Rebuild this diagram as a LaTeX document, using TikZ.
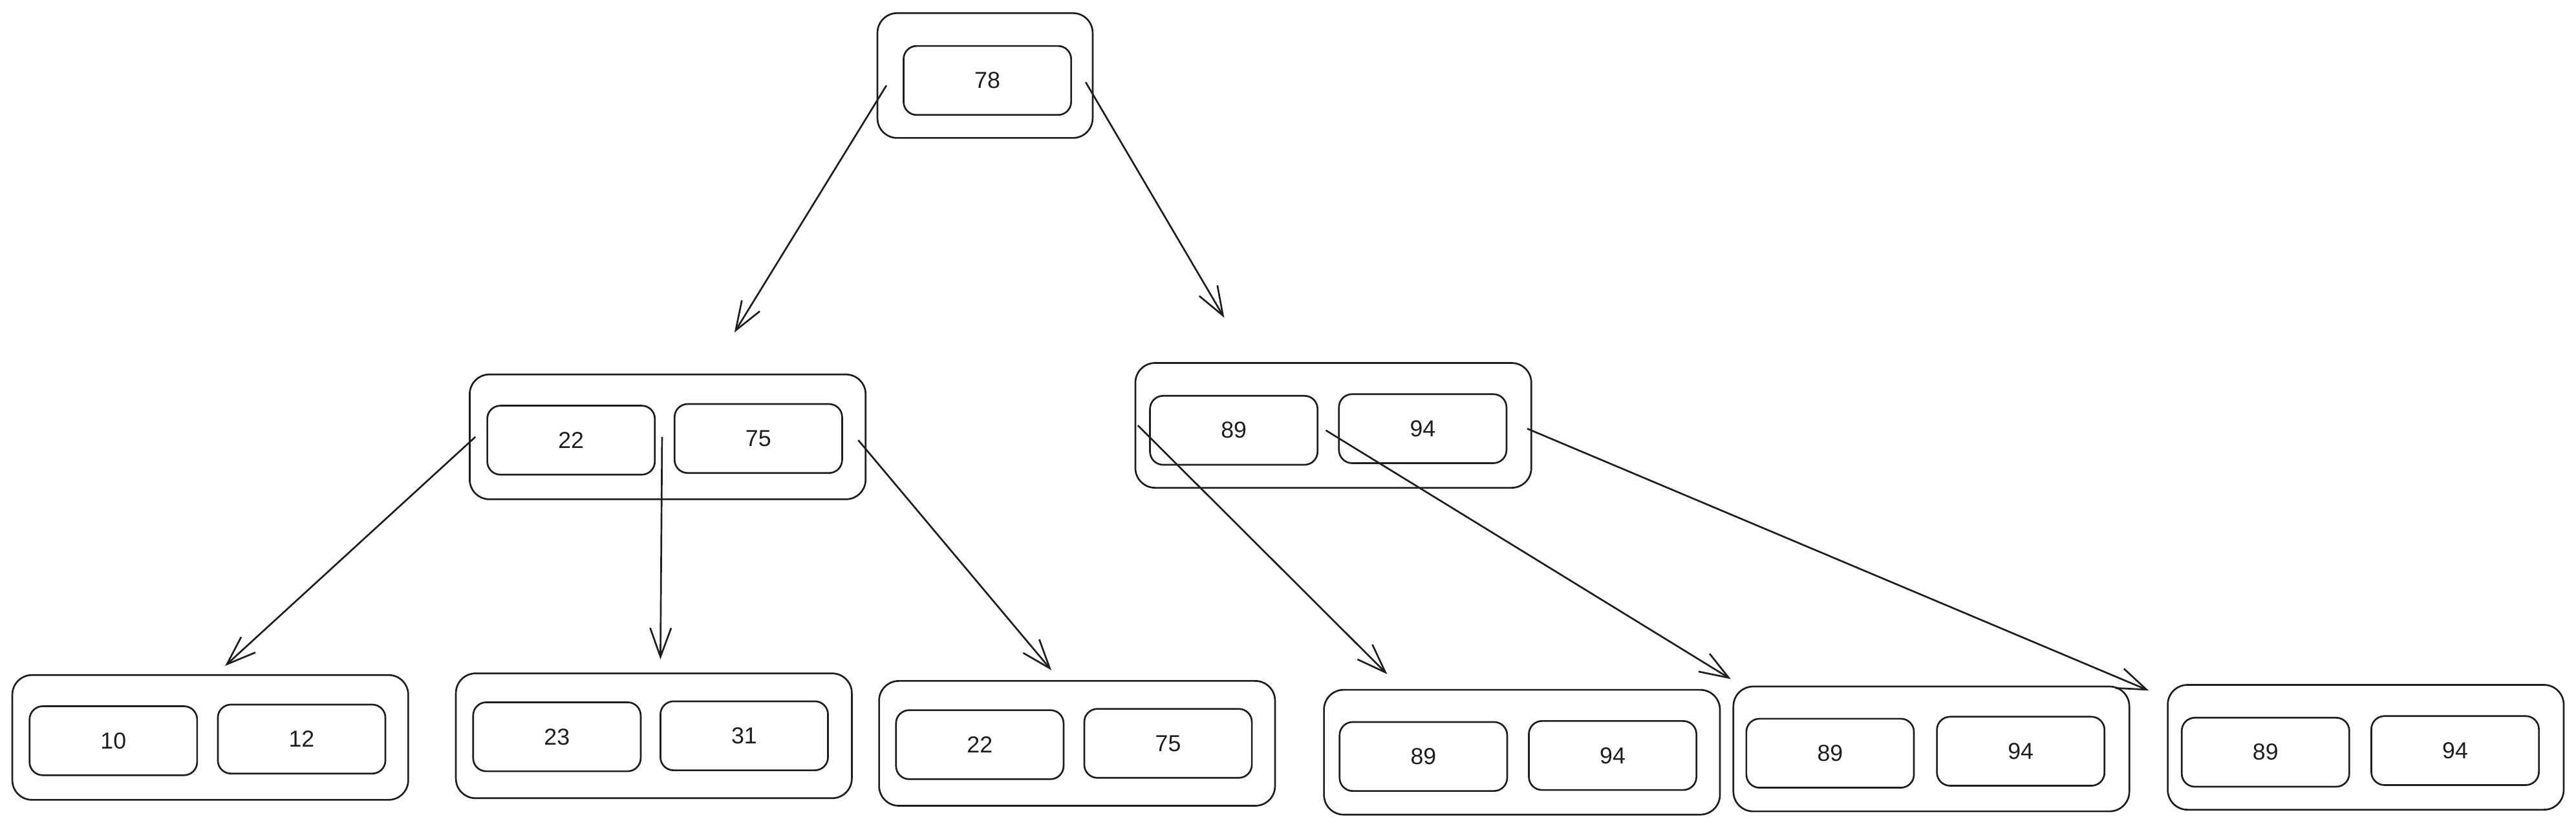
\documentclass[tikz,border=0pt]{standalone}
\usepackage{fontspec}
\setmainfont{Liberation Sans}
\usetikzlibrary{arrows.meta}
\definecolor{SketchInk}{HTML}{1E1E1E}
\tikzset{
  treearrow/.style={-{Straight Barb[length=4.4mm,width=3.2mm]},line width=0.75pt,draw=SketchInk},
  outerbox/.style={draw=SketchInk,line width=0.75pt,rounded corners=3mm,minimum width=60.25mm,minimum height=19mm,inner sep=0pt},
  rootbox/.style={outerbox,minimum width=32.75mm},
  keybox/.style={draw=SketchInk,line width=0.75pt,rounded corners=2mm,minimum width=25.5mm,minimum height=10.5mm,inner sep=0pt,text=SketchInk,font=\fontsize{10}{12}\selectfont}
}
\begin{document}
\begin{tikzpicture}[x=1mm,y=1mm]
  % Three-level tree: each node is an outer frame holding its key boxes,
  % keys are placed by hand so the frames keep their uneven margins.
  \useasboundingbox (0,0) rectangle (392,126.25);

  \node[rootbox] (root) at (149.9,114.75) {};
  \node[keybox] (k78) at (150.25,114) {78};

  \node[outerbox] (midL) at (101.6,59.75) {};
  \node[keybox] (k22) at (86.9,59.25) {22};
  \node[keybox] (k75) at (115.4,59.5) {75};

  \node[outerbox] (midR) at (202.9,61.5) {};
  \node[keybox] (k89) at (187.75,60.75) {89};
  \node[keybox] (k94) at (216.5,61) {94};

  \node[outerbox] (leafA) at (32,14) {};
  \node[keybox] (leafAa) at (17.25,13.5) {10};
  \node[keybox] (leafAb) at (45.9,13.75) {12};

  \node[outerbox] (leafB) at (99.5,14.25) {};
  \node[keybox] (leafBa) at (84.75,14.1) {23};
  \node[keybox] (leafBb) at (113.25,14.25) {31};

  \node[outerbox] (leafC) at (163.9,13.1) {};
  \node[keybox] (leafCa) at (149.1,12.9) {22};
  \node[keybox] (leafCb) at (177.75,13.1) {75};

  \node[outerbox] (leafD) at (231.6,11.75) {};
  \node[keybox] (leafDa) at (216.6,11.1) {89};
  \node[keybox] (leafDb) at (245.4,11.25) {94};

  \node[outerbox] (leafE) at (293.9,12.25) {};
  \node[keybox] (leafEa) at (278.5,11.6) {89};
  \node[keybox] (leafEb) at (307.5,11.9) {94};

  \node[outerbox] (leafF) at (360,12.5) {};
  \node[keybox] (leafFa) at (344.75,11.75) {89};
  \node[keybox] (leafFb) at (373.6,12) {94};

  \draw[treearrow] ([xshift=1.5mm,yshift=-1.5mm]root.west)
    -- ([xshift=10.15mm,yshift=6.25mm]midL.north);
  \draw[treearrow] ([xshift=-1.2mm,yshift=-1mm]root.east)
    -- ([xshift=-16.6mm,yshift=6.75mm]midR.north);

  \draw[treearrow] ([xshift=1mm]midL.west)
    -- ([xshift=2.25mm,yshift=1.25mm]leafA.north);
  \draw[treearrow] ([xshift=-0.85mm]midL.center)
    -- ([xshift=1mm,yshift=2mm]leafB.north);
  \draw[treearrow] ([xshift=-1.25mm,yshift=-0.5mm]midL.east)
    -- ([xshift=-3.9mm,yshift=1.5mm]leafC.north);

  \draw[treearrow] ([xshift=0.5mm]midR.west)
    -- ([xshift=9.75mm,yshift=2.25mm]leafD.north west);
  \draw[treearrow] ([xshift=-1.15mm,yshift=-0.75mm]midR.center)
    -- ([xshift=-0.25mm,yshift=1mm]leafE.north west);
  \draw[treearrow] ([xshift=-0.75mm,yshift=-0.5mm]midR.east)
    -- ([xshift=-2.75mm,yshift=-1mm]leafF.north west);
\end{tikzpicture}
\end{document}
